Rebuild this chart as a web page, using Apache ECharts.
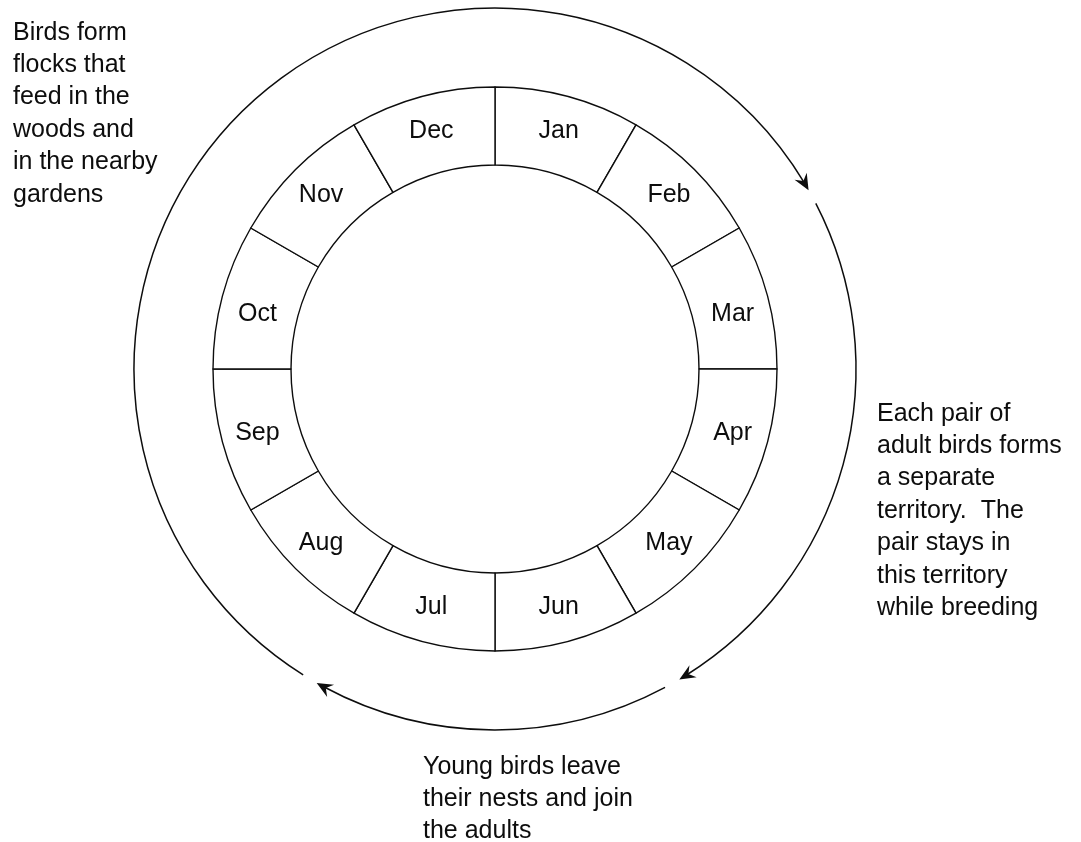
<!DOCTYPE html>
<html><head><meta charset="utf-8">
<script src="https://cdn.jsdelivr.net/npm/echarts@6/dist/echarts.min.js"></script>
<style>html,body{margin:0;padding:0;background:#fff}#c{width:1081px;height:842px}</style>
</head><body><div id="c"></div>
<script>
// Month ring (each month is an equal share of the year)
const months = ['Jan','Feb','Mar','Apr','May','Jun','Jul','Aug','Sep','Oct','Nov','Dec'];
const monthShare = [1,1,1,1,1,1,1,1,1,1,1,1];
// Outer cycle arcs: degrees counter-clockwise from 3 o'clock; each drawn clockwise from start to end (arrow at end)
const arcStartDeg = [237.9, 27.3, 298.1];
const arcEndDeg   = [29.7, 300.7, 240.4];
// Annotations
const notes = [
  'Birds form\nflocks that\nfeed in the\nwoods and\nin the nearby\ngardens',
  'Each pair of\nadult birds forms\na separate\nterritory.  The\npair stays in\nthis territory\nwhile breeding',
  'Young birds leave\ntheir nests and join\nthe adults'
];

// layout / style
const FONT = '"Liberation Sans", Arial, sans-serif';
const INK = '#0d0d0d';
const notePos = [[13, 16.5], [877, 397.5], [423, 750.5]];
const labelNudge = { Mar: [0, 9], Oct: [0, 9] };

const chart = echarts.init(document.getElementById('c'), null, {renderer: 'canvas'});
chart.setOption({
  animation: false,
  backgroundColor: '#fff',
  polar: { center: [495, 369], radius: 361 },
  angleAxis: { type: 'value', min: 0, max: 360, startAngle: 0, clockwise: false, show: false },
  radiusAxis: { type: 'value', min: 0, max: 1, show: false },
  graphic: notes.map((t, i) => ({
    type: 'text', x: notePos[i][0], y: notePos[i][1], silent: true,
    style: { text: t, font: '25px ' + FONT, lineHeight: 32.4, fill: INK, verticalAlign: 'top', align: 'left' }
  })),
  series: [
    {
      type: 'pie', silent: true,
      center: [495, 369], radius: [204, 282],
      startAngle: 90, clockwise: true,
      data: months.map((m, i) => {
        const d = { name: m, value: monthShare[i] };
        if (labelNudge[m]) d.label = { offset: labelNudge[m] };
        return d;
      }),
      itemStyle: { color: '#fff', borderColor: INK, borderWidth: 1.4 },
      label: { show: true, position: 'inside', formatter: '{b}', fontSize: 25, fontFamily: FONT, color: INK },
      labelLine: { show: false },
      emphasis: { disabled: true }
    },
    {
      type: 'custom', coordinateSystem: 'polar', silent: true,
      data: arcStartDeg.map((s, i) => [1, s, arcEndDeg[i]]),
      encode: { radius: 0, angle: [1, 2] },
      renderItem: function (params, api) {
        const rv = api.value(0);
        const c = api.coord([0, 0]);
        const p0 = api.coord([rv, api.value(1)]);
        const p1 = api.coord([rv, api.value(2)]);
        const r = Math.hypot(p1[0] - c[0], p1[1] - c[1]);
        let a0 = Math.atan2(p0[1] - c[1], p0[0] - c[0]);
        let a1 = Math.atan2(p1[1] - c[1], p1[0] - c[0]);
        if (a1 < a0) a1 += Math.PI * 2;
        const tx = -Math.sin(a1), ty = Math.cos(a1);
        const nx = -ty, ny = tx;
        const L = 16, W = 7, N = 10.5;
        const tip = p1;
        const b1 = [tip[0] - L * tx + W * nx, tip[1] - L * ty + W * ny];
        const nt = [tip[0] - N * tx, tip[1] - N * ty];
        const b2 = [tip[0] - L * tx - W * nx, tip[1] - L * ty - W * ny];
        return {
          type: 'group',
          children: [
            { type: 'arc', shape: { cx: c[0], cy: c[1], r: r, startAngle: a0, endAngle: a1 - 8 / r, clockwise: true },
              style: { fill: 'none', stroke: INK, lineWidth: 1.5 } },
            { type: 'polygon', shape: { points: [tip, b1, nt, b2] }, style: { fill: INK, stroke: 'none' } }
          ]
        };
      }
    }
  ]
});
</script></body></html>
